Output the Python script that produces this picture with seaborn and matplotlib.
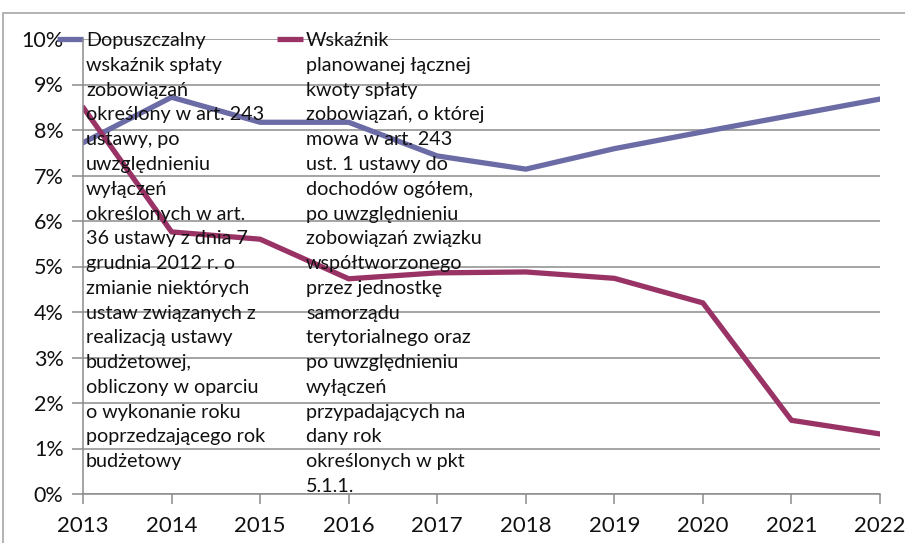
import matplotlib
matplotlib.use("Agg")
import matplotlib.pyplot as plt
import matplotlib.patches as mpatches
import pandas as pd
import seaborn as sns

years = [2013, 2014, 2015, 2016, 2017, 2018, 2019, 2020, 2021, 2022]
dopuszczalny = [7.72, 8.72, 8.17, 8.17, 7.43, 7.14, 7.59, 7.96, 8.32, 8.68]
wskaznik = [8.50, 5.76, 5.60, 4.73, 4.86, 4.88, 4.74, 4.20, 1.62, 1.32]
y_ticks = [0, 1, 2, 3, 4, 5, 6, 7, 8, 9, 10]

label_dop = ("Dopuszczalny\nwskaźnik spłaty\nzobowiązań\nokreślony w art. 243\n"
             "ustawy, po\nuwzględnieniu\nwyłączeń\nokreślonych w art.\n"
             "36 ustawy z dnia 7\ngrudnia 2012 r. o\nzmianie niektórych\n"
             "ustaw związanych z\nrealizacją ustawy\nbudżetowej,\n"
             "obliczony w oparciu\no wykonanie roku\npoprzedzającego rok\nbudżetowy")
label_wsk = ("Wskaźnik\nplanowanej łącznej\nkwoty spłaty\nzobowiązań, o której\n"
             "mowa w art. 243\nust. 1 ustawy do\ndochodów ogółem,\n"
             "po uwzględnieniu\nzobowiązań związku\nwspółtworzonego\n"
             "przez jednostkę\nsamorządu\nterytorialnego oraz\npo uwzględnieniu\n"
             "wyłączeń\nprzypadających na\ndany rok\nokreślonych w pkt\n5.1.1.")

col_dop = "#6B6BA5"
col_wsk = "#993366"
grid_col = "#8C8C8C"

sns.set_theme(style="white")
plt.rcParams["font.family"] = ["Lato", "DejaVu Sans"]

df = pd.DataFrame({
    "rok": years,
    "dop": dopuszczalny,
    "wsk": wskaznik,
})

fig = plt.figure(figsize=(9.05, 5.43), dpi=100)
ax = fig.add_axes([83 / 905, 1 - 494 / 543, 797 / 905, 455 / 543])

# ramka wykresu
fig.patches.append(mpatches.Rectangle(
    (3 / 905, -0.1), 1.2, 1 - 13 / 543 + 0.1,
    transform=fig.transFigure, fill=False,
    edgecolor="#A6A6A6", linewidth=1.2
))

sns.lineplot(data=df, x="rok", y="dop", color=col_dop, linewidth=3.8, ax=ax)
sns.lineplot(data=df, x="rok", y="wsk", color=col_wsk, linewidth=3.8, ax=ax)

ax.set_xlim(years[0], years[-1])
ax.set_ylim(0, 10)
ax.set_xticks(years)
ax.set_yticks(y_ticks)
ax.set_yticklabels([f"{t}%" for t in y_ticks])
ax.set_xlabel("")
ax.set_ylabel("")

ax.grid(axis="y", color=grid_col, linewidth=1.1)
ax.set_axisbelow(True)
for side in ["top", "right"]:
    ax.spines[side].set_visible(False)
for side in ["left", "bottom"]:
    ax.spines[side].set_color(grid_col)
    ax.spines[side].set_linewidth(1.1)

ax.tick_params(axis="x", direction="out", length=7, width=1.1, color=grid_col,
               labelsize=16, pad=9, bottom=True, labelcolor="#111111")
ax.tick_params(axis="y", direction="out", length=8, width=1.1, color=grid_col,
               labelsize=15.5, pad=6, left=True, labelcolor="#111111")

# legenda wewnatrz obszaru wykresu
for x0, col, txt in [(-0.0326, col_dop, label_dop), (0.2434, col_wsk, label_wsk)]:
    ax.plot([x0, x0 + 0.0326], [1, 1], transform=ax.transAxes,
            color=col, linewidth=3.8, clip_on=False, solid_capstyle="butt")
    ax.text(x0 + 0.0364, 1.015, txt, transform=ax.transAxes,
            va="top", ha="left", fontsize=14.2, linespacing=1.555,
            color="#111111")

fig.savefig("out.png", dpi=100)
plt.close(fig)
